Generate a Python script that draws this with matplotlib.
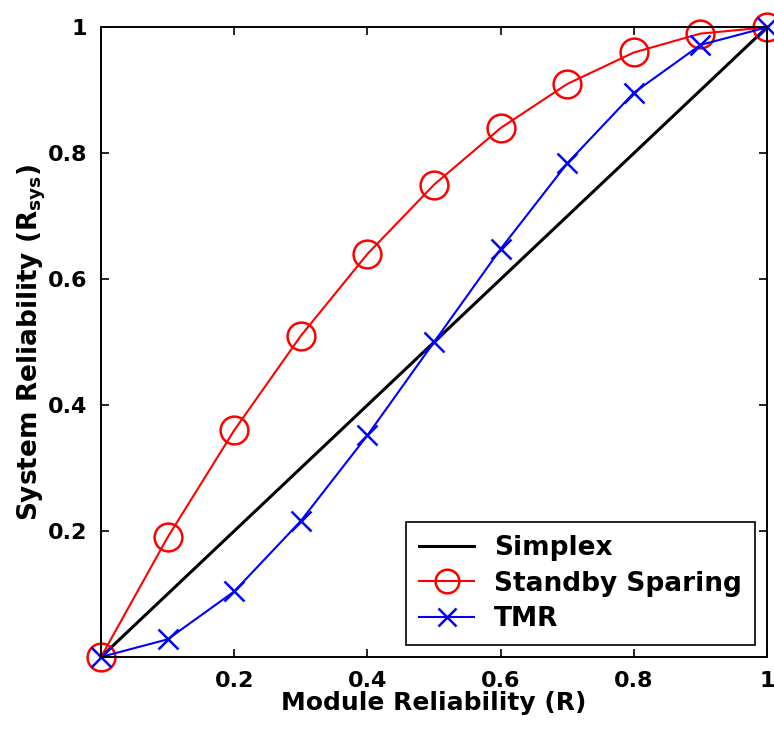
import matplotlib
matplotlib.use("Agg")
import matplotlib.pyplot as plt

r = [0.0, 0.1, 0.2, 0.3, 0.4, 0.5, 0.6, 0.7, 0.8, 0.9, 1.0]
simplex = [0.0, 0.1, 0.2, 0.3, 0.4, 0.5, 0.6, 0.7, 0.8, 0.9, 1.0]
standby = [0.0, 0.19, 0.36, 0.51, 0.64, 0.75, 0.84, 0.91, 0.96, 0.99, 1.0]
tmr = [0.0, 0.028, 0.104, 0.216, 0.352, 0.5, 0.648, 0.784, 0.896, 0.972, 1.0]
ticks = [0.2, 0.4, 0.6, 0.8, 1.0]
tick_labels = ["0.2", "0.4", "0.6", "0.8", "1"]


def main():
    plt.rcParams["font.family"] = ["DejaVu Sans"]
    plt.rcParams["font.weight"] = "bold"
    plt.rcParams["mathtext.default"] = "bf"

    fig = plt.figure(figsize=(7.74, 7.38), dpi=100)
    ax = fig.add_axes([0.1305, 0.1098, 0.8605, 0.8532])

    ax.plot(r, simplex, color="black", linewidth=2.2, label="Simplex",
            clip_on=False)
    ax.plot(r, standby, color="red", linewidth=1.5, marker="o", markersize=20,
            markerfacecolor="none", markeredgewidth=1.8, label="Standby Sparing",
            clip_on=False)
    ax.plot(r, tmr, color="blue", linewidth=1.5, marker="x", markersize=15,
            markeredgewidth=1.8, label="TMR", clip_on=False)

    ax.set_xlim(0, 1)
    ax.set_ylim(0, 1)
    ax.set_xticks(ticks)
    ax.set_xticklabels(tick_labels)
    ax.set_yticks(ticks)
    ax.set_yticklabels(tick_labels)
    ax.tick_params(direction="in", length=6, width=1.2, labelsize=16,
                   top=True, right=True, pad=10)
    for s in ax.spines.values():
        s.set_linewidth(1.4)

    ax.set_xlabel("Module Reliability (R)", fontsize=18, fontweight="bold", labelpad=0)
    ax.set_ylabel("System Reliability (R$_{sys}$)", fontsize=19, fontweight="bold",
                  labelpad=0)

    leg = ax.legend(loc="lower right", fontsize=19, fancybox=False, framealpha=1,
                    edgecolor="black", borderaxespad=0.45, handlelength=2.1,
                    handletextpad=0.75, labelspacing=0.35, borderpad=0.5,
                    markerscale=0.85)
    leg.get_frame().set_linewidth(1.2)
    leg.set_zorder(5)

    fig.savefig("out.png", dpi=100)


if __name__ == "__main__":
    main()
